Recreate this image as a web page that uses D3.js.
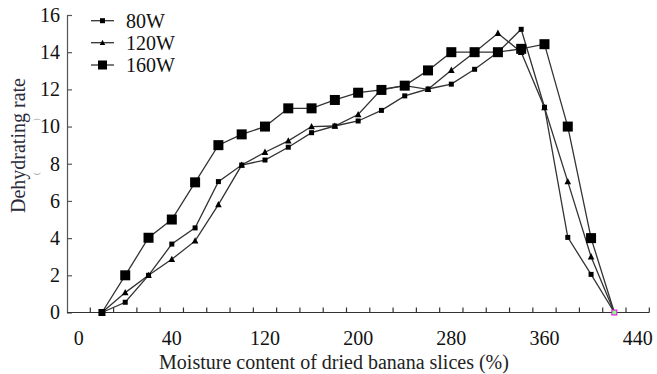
<!DOCTYPE html>
<html><head><meta charset="utf-8">
<script src="https://cdn.jsdelivr.net/npm/d3@7"></script>
<style>
html,body{margin:0;padding:0;background:#fff;}
svg{display:block;font-family:"Liberation Serif","Times New Roman",serif;}
</style></head>
<body>
<svg id="chart" width="657" height="374"></svg>
<script>
// Category axis (Excel-style): moisture content categories
const categories = [0,10,20,30,40,60,80,100,120,140,160,180,200,220,240,260,280,300,320,340,360,380,400,420,440];
const xTickLabels = [0,40,120,200,280,360,440];
const yTickValues = [0,2,4,6,8,10,12,14,16];
const moisture = [10,20,30,40,60,80,100,120,140,160,180,200,220,240,260,280,300,320,340,360,380,400,420];
const rate80W  = [0,0.55,2.0,3.68,4.55,7.04,7.93,8.2,8.89,9.67,10.03,10.3,10.87,11.65,12.02,12.28,13.08,14.0,15.23,11.04,4.04,2.05,0];
const rate120W = [0,1.07,2.0,2.86,3.85,5.8,7.93,8.62,9.23,10.0,10.03,10.65,12.0,12.2,12.0,13.03,14.0,15.02,14.0,11.02,7.04,3.0,0];
const rate160W = [0,2.0,4.02,5.0,7.0,9.0,9.58,10.0,10.98,10.98,11.43,11.82,11.97,12.2,13.02,14.0,14.0,14.0,14.18,14.43,10.0,4.0,0];
const seriesNames = ["80W","120W","160W"];

const svg = d3.select("#chart");
const x = d3.scaleBand().domain(categories).range([67, 649.3]).padding(0);
const y = d3.scaleLinear().domain([0,16]).range([312.5, 15]);
const cx = v => x(v) + x.bandwidth()/2;

const series = [
  {name: seriesNames[0], values: rate80W, shape: "sq", size: 5},
  {name: seriesNames[1], values: rate120W, shape: "tri", size: 6},
  {name: seriesNames[2], values: rate160W, shape: "sq", size: 10}
];

// Y axis
const yAxis = d3.axisLeft(y).tickValues(yTickValues).tickSizeInner(-5).tickSizeOuter(0).tickPadding(7);
const gy = svg.append("g").attr("transform","translate(67,0)").call(yAxis);
gy.select(".domain").attr("stroke","#555").attr("stroke-width",1.2);
gy.selectAll(".tick line").attr("stroke","#555").attr("stroke-width",1.2);
gy.selectAll(".tick text").attr("font-size",20).attr("fill","#111").attr("font-family","Liberation Serif");

// X axis (custom category axis)
const y0 = y(0);
const gx = svg.append("g");
gx.append("line").attr("x1",67).attr("x2",x.range()[1]).attr("y1",y0).attr("y2",y0)
  .attr("stroke","#333").attr("stroke-width",1.2);
const bounds = categories.slice(1).map(c => x(c)).concat([x.range()[1]]);
gx.selectAll("line.t").data(bounds).join("line").attr("class","t")
  .attr("x1",d=>d).attr("x2",d=>d).attr("y1",y0).attr("y2",y0-5)
  .attr("stroke","#333").attr("stroke-width",1.2);
gx.selectAll("text").data(xTickLabels).join("text")
  .attr("x",d=>cx(d)).attr("y",345).attr("text-anchor","middle")
  .attr("font-size",20).attr("fill","#111").text(d=>d);

// Titles
svg.append("text").attr("x",334).attr("y",369).attr("text-anchor","middle")
  .attr("font-size",20).attr("fill","#222").text("Moisture content of dried banana slices (%)");
svg.append("text").attr("transform","translate(25,213) rotate(-90)")
  .attr("font-size",20).attr("fill","#2a2a3a").text("Dehydrating rate");
svg.append("text").attr("transform","translate(39,175) rotate(-90)")
  .attr("font-size",8).attr("fill","#999").text("(");
svg.append("text").attr("transform","translate(39,121) rotate(-90)")
  .attr("font-size",8).attr("fill","#999").text(")");

// Lines
const line = d3.line().x((d,i)=>cx(moisture[i])).y(d=>y(d));
const gl = svg.append("g");
series.forEach(s => {
  gl.append("path").datum(s.values).attr("d",line)
    .attr("fill","none").attr("stroke","#333").attr("stroke-width",1.3);
});

function marker(g, shape, size, px, py){
  if(shape==="sq"){
    g.append("rect").attr("x",px-size/2).attr("y",py-size/2).attr("width",size).attr("height",size).attr("fill","#000");
  } else {
    const h = size;
    g.append("path").attr("d",`M${px},${py-h*0.6}L${px+h*0.55},${py+h*0.45}L${px-h*0.55},${py+h*0.45}Z`).attr("fill","#000");
  }
}
const gm = svg.append("g");
series.forEach(s => {
  s.values.forEach((v,i) => {
    if(i === s.values.length-1) return;
    const sz = (i===0 && s.size>6) ? 7 : s.size;
    marker(gm, s.shape, sz, cx(moisture[i]), y(v));
  });
});
// final point marker (coloured in original)
const last = moisture.length-1;
gm.append("rect").attr("x",cx(moisture[last])-2.5).attr("y",y(0)-2.5).attr("width",5).attr("height",5)
  .attr("fill","#8f8").attr("stroke","#e0e","stroke-width",1.2);

// Legend
const lg = svg.append("g");
const legY = [20.7, 42.7, 65];
series.forEach((s,i) => {
  lg.append("line").attr("x1",91).attr("x2",114).attr("y1",legY[i]).attr("y2",legY[i])
    .attr("stroke","#333").attr("stroke-width",1.3);
  marker(lg, s.shape, s.shape==="tri"?5:(s.size>6?9:5), 102.5, legY[i]);
  lg.append("text").attr("x",126).attr("y",legY[i]+7).attr("font-size",20).attr("fill","#111").text(s.name);
});
</script>
</body></html>
